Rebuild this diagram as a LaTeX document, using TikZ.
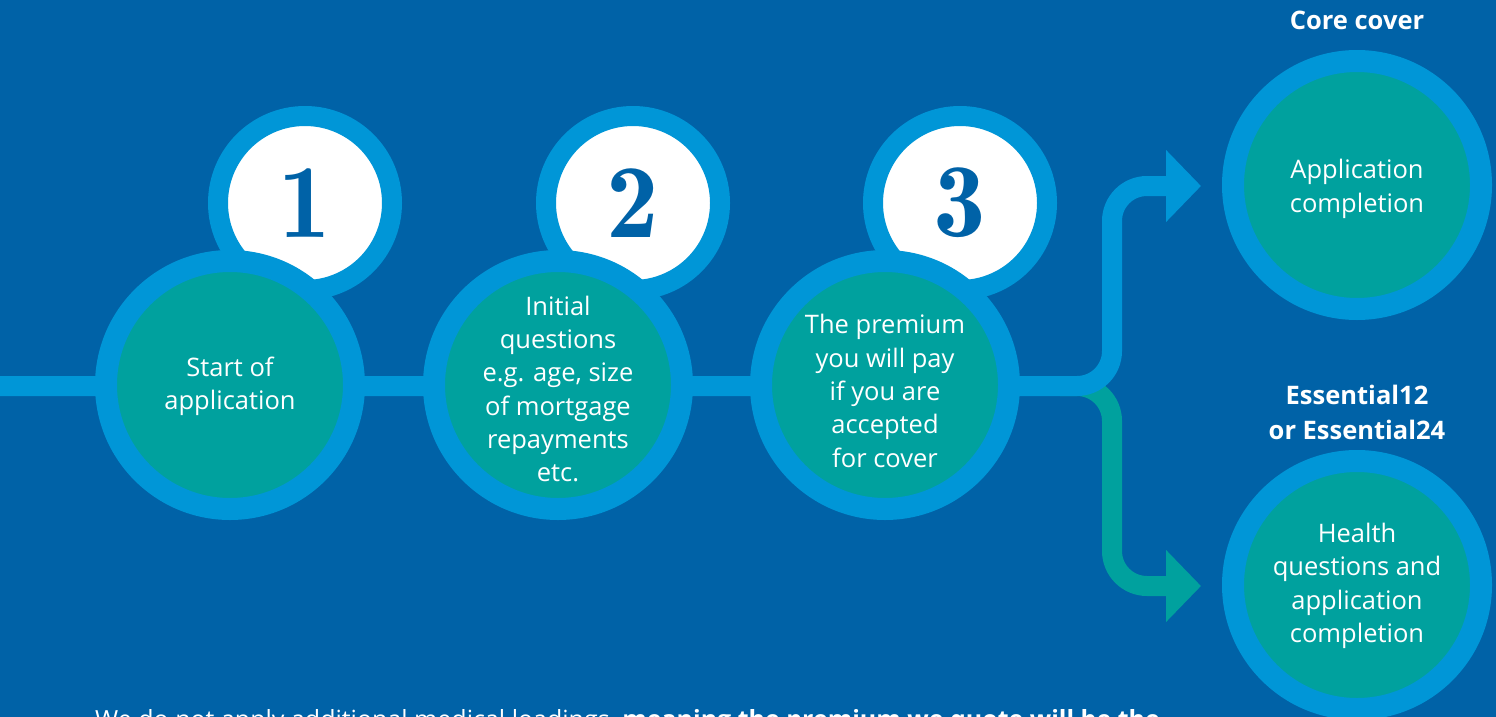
\documentclass[tikz,border=0pt]{standalone}
\usepackage{fontspec}
\setmainfont{Open Sans}
\usetikzlibrary{arrows.meta}
\definecolor{bgblue}{HTML}{0062A7}
\definecolor{ringblue}{HTML}{0096D7}
\definecolor{tealc}{HTML}{00A19E}
\tikzset{
  stepcircle/.style={circle, draw=ringblue, line width=22pt, fill=tealc,
    minimum size=248pt, inner sep=0pt},
  steptext/.style={text=white, align=center, inner sep=0pt,
    font=\fontsize{25.5}{33.3}\selectfont},
  numcircle/.style={circle, draw=ringblue, line width=20pt, fill=white,
    minimum size=174pt, inner sep=0pt, text=bgblue,
    font=\fontfamily{lmr}\fontsize{105}{105}\bfseries\selectfont},
  headlabel/.style={text=white, align=center, font=\fontsize{25.5}{35}\bfseries\selectfont},
  flow/.style={line width=20pt, rounded corners=35pt},
  tipc/.style={-{Triangle[length=35pt,width=70pt]}}
}
\begin{document}
\begin{tikzpicture}[x=1pt,y=-1pt]
\useasboundingbox (0,0) rectangle (1496,717);
\clip (0,0) rectangle (1496,717);
\fill[bgblue] (0,0) rectangle (1496,717);

% coordinates for connectors
\coordinate (start) at (0,386);
\coordinate (split) at (1060,386);
\coordinate (junc) at (1112,386);
\coordinate (upend) at (1201,186);
\coordinate (lowend) at (1201,586);

% branches
\draw[flow, tealc, tipc] (split) -- (junc) -- (1112,586) -- (lowend);
\draw[flow, ringblue, tipc] (start) -- (junc) -- (1112,186) -- (upend);

% number circles
\node[numcircle] (n1) at (305,203) {1};
\node[numcircle] (n2) at (633,203) {2};
\node[numcircle] (n3) at (960,203) {3};

% step circles
\node[stepcircle] (s1) at (230,385) {};
\node[stepcircle] (s2) at (558,385) {};
\node[stepcircle] (s3) at (885,385) {};
\node[steptext] (t1) at (230,386) {Start of\\application};
\node[steptext] (t2) at (558,389) {Initial\\questions\\e.g. age, size\\of mortgage\\repayments\\etc.};
\node[steptext] (t3) at (885,391) {The premium\\you will pay\\if you are\\accepted\\for cover};

% outcome circles
\node[stepcircle] (o1) at (1357,185) {};
\node[stepcircle] (o2) at (1357,585) {};
\node[steptext] (u1) at (1357,189) {Application\\completion};
\node[steptext] (u2) at (1357,586) {Health\\questions and\\application\\completion};

% labels
\node[headlabel] (l1) at (1357,20) {Core cover};
\node[headlabel] (l2) at (1357,412) {Essential12\\or Essential24};

% bottom text (cut by the frame)
\node[anchor=base west, text=white, font=\fontsize{25}{30}\selectfont, inner sep=0pt] (foot) at (95,728)
  {We do not apply additional medical loadings, \textbf{meaning the premium we quote will be the}};
\end{tikzpicture}
\end{document}
